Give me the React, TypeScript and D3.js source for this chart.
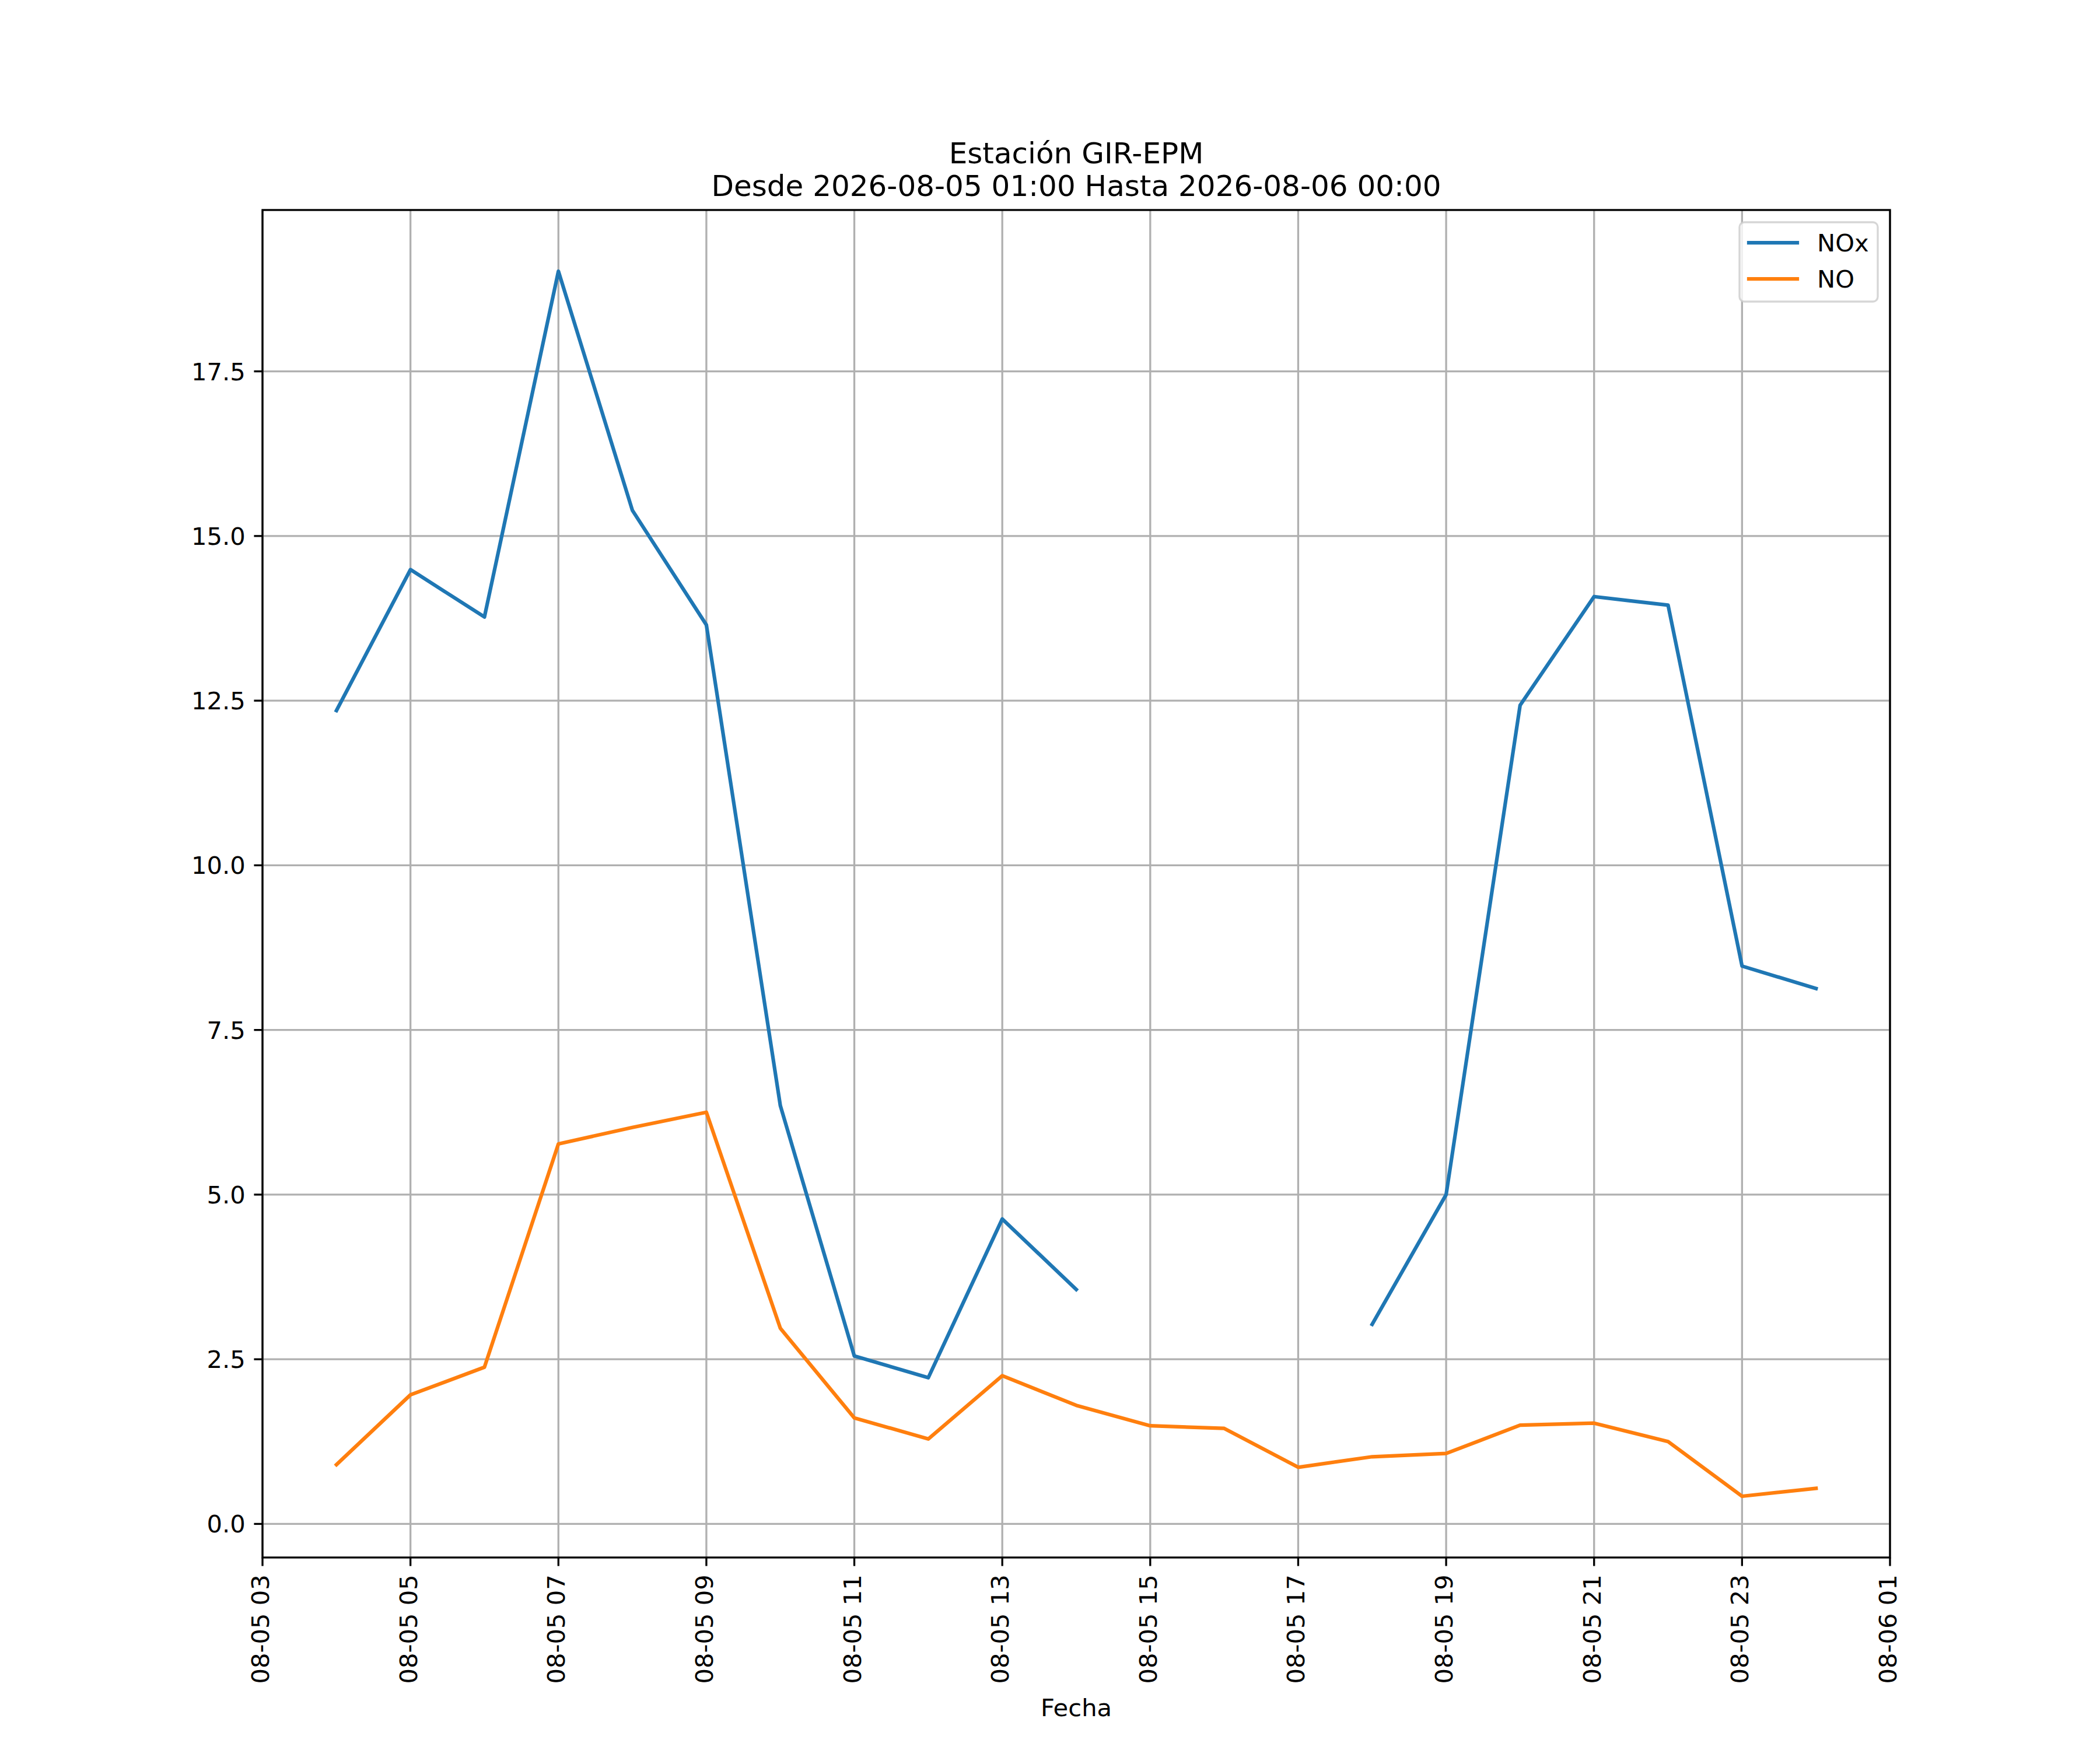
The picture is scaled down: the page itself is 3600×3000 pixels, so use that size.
import React from "react";
import * as d3 from "d3";

// ---- data ----
const hours: number[] = [4, 5, 6, 7, 8, 9, 10, 11, 12, 13, 14, 15, 16, 17, 18, 19, 20, 21, 22, 23, 24];
const noxValues: (number | null)[] = [
  12.35, 14.49, 13.77, 19.02, 15.39, 13.65, 6.35, 2.55, 2.22, 4.63, 3.56,
  null, null, null, 3.03, 5.0, 12.43, 14.08, 13.95, 8.47, 8.13,
];
const noValues: (number | null)[] = [
  0.9, 1.96, 2.38, 5.77, 6.02, 6.25, 2.97, 1.61, 1.29, 2.25, 1.8,
  1.49, 1.45, 0.86, 1.02, 1.07, 1.5, 1.53, 1.25, 0.42, 0.54,
];
const seriesNames: string[] = ["NOx", "NO"];
const seriesColors: string[] = ["#1f77b4", "#ff7f0e"];
const yTickValues: number[] = [0, 2.5, 5, 7.5, 10, 12.5, 15, 17.5];
const titleLines: string[] = ["Estación GIR-EPM", "Desde 2026-08-05 01:00 Hasta 2026-08-06 00:00"];
const xLabel = "Fecha";

const W = 3600;
const H = 3000;
const M = { left: 450, right: 3240, top: 360, bottom: 2670 };
const FS = 41.67; // 10pt @300dpi
const LW = 3.33; // 0.8pt
const TICK = 14.58;
const FONT = "DejaVu Sans, sans-serif";

export default function App() {
  const dates = hours.map((h) => new Date(2026, 7, 5, h));
  const t0 = +dates[0];
  const t1 = +dates[dates.length - 1];
  const tm = (t1 - t0) * 0.05;
  const x = d3.scaleTime().domain([new Date(t0 - tm), new Date(t1 + tm)]).range([M.left, M.right]);

  const all = [...noxValues, ...noValues].filter((v): v is number => v != null);
  const ymin = d3.min(all)!;
  const ymax = d3.max(all)!;
  const ym = (ymax - ymin) * 0.05;
  const y = d3.scaleLinear().domain([ymin - ym, ymax + ym]).range([M.bottom, M.top]);

  const [xd0, xd1] = x.domain();
  const xTicks = d3.timeHour.range(xd0, new Date(+xd1 + 1), 2);
  const fmtX = d3.timeFormat("%m-%d %H");
  const fmtY = d3.format(".1f");

  const series = [noxValues, noValues];
  const line = d3
    .line<{ d: Date; v: number | null }>()
    .defined((p) => p.v != null)
    .x((p) => x(p.d))
    .y((p) => y(p.v as number));

  const legX = 2982;
  const legY = 381;
  const legW = 237;
  const legH = 136;

  return (
    <svg width={W} height={H} style={{ position: "absolute", left: 0, top: 0, background: "#fff" }} fontFamily={FONT}>
      <rect x={0} y={0} width={W} height={H} fill="#fff" />
      {/* grid */}
      {xTicks.map((d, i) => (
        <line key={"gx" + i} x1={x(d)} x2={x(d)} y1={M.top} y2={M.bottom} stroke="#b0b0b0" strokeWidth={LW} />
      ))}
      {yTickValues.map((v, i) => (
        <line key={"gy" + i} x1={M.left} x2={M.right} y1={y(v)} y2={y(v)} stroke="#b0b0b0" strokeWidth={LW} />
      ))}
      {/* series */}
      {series.map((vals, si) => (
        <path
          key={"s" + si}
          d={line(vals.map((v, i) => ({ d: dates[i], v }))) || ""}
          fill="none"
          stroke={seriesColors[si]}
          strokeWidth={6.25}
          strokeLinejoin="round"
          strokeLinecap="square"
        />
      ))}
      {/* spines */}
      <rect x={M.left} y={M.top} width={M.right - M.left} height={M.bottom - M.top} fill="none" stroke="#000" strokeWidth={LW} strokeLinejoin="miter" />
      {/* x ticks */}
      {xTicks.map((d, i) => (
        <g key={"xt" + i}>
          <line x1={x(d)} x2={x(d)} y1={M.bottom} y2={M.bottom + TICK} stroke="#000" strokeWidth={LW} />
          <text
            transform={`translate(${x(d)},${M.bottom + TICK + 14.58}) rotate(-90)`}
            dy={11}
            textAnchor="end"
            fontSize={FS}
            fill="#000"
          >
            {fmtX(d)}
          </text>
        </g>
      ))}
      {/* y ticks */}
      {yTickValues.map((v, i) => (
        <g key={"yt" + i}>
          <line x1={M.left - TICK} x2={M.left} y1={y(v)} y2={y(v)} stroke="#000" strokeWidth={LW} />
          <text x={M.left - TICK - 14.58} y={y(v) + 15} textAnchor="end" fontSize={FS} fill="#000">
            {fmtY(v)}
          </text>
        </g>
      ))}
      {/* x label */}
      <text x={(M.left + M.right) / 2} y={2942} textAnchor="middle" fontSize={FS} fill="#000">
        {xLabel}
      </text>
      {/* title */}
      {titleLines.map((t, i) => (
        <text key={"t" + i} x={(M.left + M.right) / 2} y={280 + i * 56} textAnchor="middle" fontSize={50} fill="#000">
          {t}
        </text>
      ))}
      {/* legend */}
      <rect x={legX} y={legY} width={legW} height={legH} rx={8.3} ry={8.3} fill="#fff" fillOpacity={0.8} stroke="#cccccc" strokeOpacity={0.8} strokeWidth={LW} />
      {seriesNames.map((n, i) => {
        const cy = 416 + i * 62;
        return (
          <g key={"lg" + i}>
            <line x1={2998} x2={3081} y1={cy} y2={cy} stroke={seriesColors[i]} strokeWidth={6.25} strokeLinecap="square" />
            <text x={3115} y={cy + 15} fontSize={FS} fill="#000">
              {n}
            </text>
          </g>
        );
      })}
    </svg>
  );
}
